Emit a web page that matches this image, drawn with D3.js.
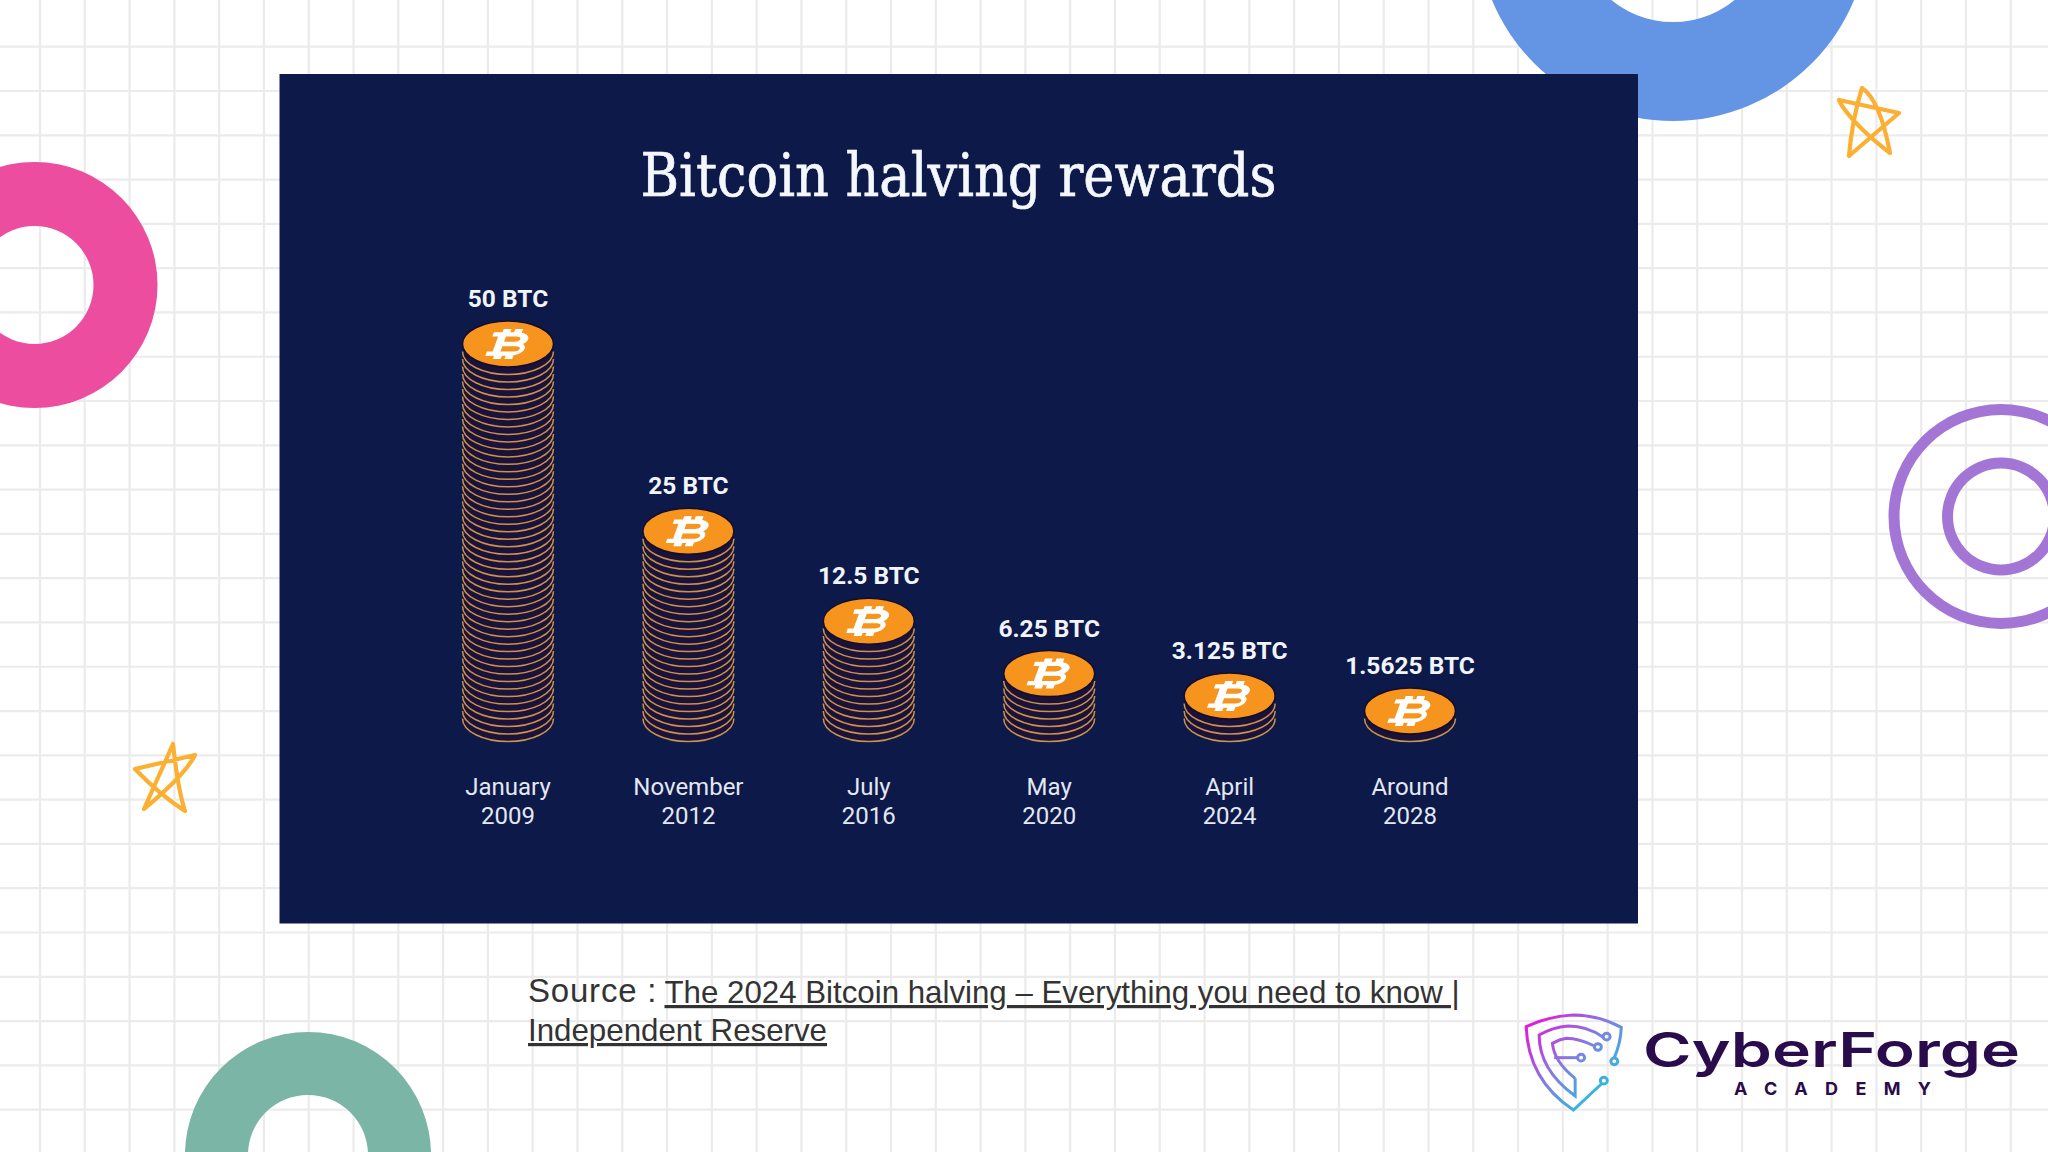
<!DOCTYPE html>
<html>
<head>
  <meta charset="utf-8">
  <script src="https://d3js.org/d3.v7.min.js"></script>
  <style>
    html, body { margin: 0; padding: 0; background: #fff; }
    svg { display: block; }
  </style>
</head>
<body>
<script type="text/javascript">

  // chart data
  var months = ["January", "November", "July", "May", "April", "Around"];
  var years = ["2009", "2012", "2016", "2020", "2024", "2028"];
  var rewards = ["50 BTC", "25 BTC", "12.5 BTC", "6.25 BTC", "3.125 BTC", "1.5625 BTC"];
  var coinLayers = [50, 25, 13, 6, 3, 1];

  var title = "Bitcoin halving rewards";

  var width = 2048, height = 1152;
  var panel = {x: 279.5, y: 74, w: 1358.5, h: 849.5};
  var coin = {rx: 45.5, ry: 23};
  var btcIcon = "M17.06 11.57c.59-.69.94-1.59.94-2.57 0-1.86-1.27-3.43-3-3.87V3h-2v2h-2V3H9v2H6v2h2v10H6v2h3v2h2v-2h2v2h2v-2.13c1.73-.44 3-2.01 3-3.87 0-1.41-.73-2.65-1.94-3.43zM10 7h4c1.1 0 2 .9 2 2s-.9 2-2 2h-4V7zm5 10h-5v-4h5c1.1 0 2 .9 2 2s-.9 2-2 2z";

  var svg = d3.select("body").append("svg")
    .attr("width", width)
    .attr("height", height)
    .style("background", "#fff");

  // background grid
  var gridX = d3.range(40, width, 44.79);
  var gridY = d3.range(46.7, height, 44.29);

  svg.append("g").selectAll("line").data(gridX).enter().append("line")
    .attr("x1", function(d) { return d; }).attr("x2", function(d) { return d; })
    .attr("y1", 0).attr("y2", height)
    .attr("stroke", "#ebebeb").attr("stroke-width", 2.2);
  svg.append("g").selectAll("line").data(gridY).enter().append("line")
    .attr("y1", function(d) { return d; }).attr("y2", function(d) { return d; })
    .attr("x1", 0).attr("x2", width)
    .attr("stroke", "#ebebeb").attr("stroke-width", 2.2);

  // decoration rings
  function ring(cx, cy, inner, outer, color) {
    svg.append("path")
      .attr("transform", "translate(" + cx + "," + cy + ")")
      .attr("d", d3.arc()({innerRadius: inner, outerRadius: outer, startAngle: 0, endAngle: 2 * Math.PI}))
      .attr("fill", color);
  }
  ring(34.5, 285, 59, 123, "#ec4d9f");
  ring(1673, -75, 97, 196, "#6495e4");
  ring(308, 1155, 60, 123, "#7ab5a5");
  ring(2001, 516.5, 101.5, 112.5, "#a376d6");
  ring(2001, 516.5, 48, 59, "#a376d6");

  // hand drawn stars
  function star(d) {
    svg.append("path").attr("d", d)
      .attr("fill", "none").attr("stroke", "#fbb034")
      .attr("stroke-width", 4.2).attr("stroke-linejoin", "round").attr("stroke-linecap", "round");
  }
  star("M1839 100L1899 113L1849 156Q1852 120 1862 88Q1880 100 1890 153Q1860 130 1845 110Q1841 105 1839 100");
  star("M135 769L195 755Q185 775 144 809L173 744Q178 790 185 811Q160 795 135 769");

  // main panel
  svg.append("rect")
    .attr("x", panel.x).attr("y", panel.y)
    .attr("width", panel.w).attr("height", panel.h)
    .attr("fill", "#0c1949");

  svg.append("text")
    .attr("x", 958.5).attr("y", 196)
    .attr("text-anchor", "middle")
    .attr("textLength", 636)
    .attr("lengthAdjust", "spacingAndGlyphs")
    .style("font-family", "'DejaVu Serif', serif")
    .style("font-size", "60px")
    .style("fill", "#f4f7fc")
    .style("stroke", "#f4f7fc")
    .style("stroke-width", 0.7)
    .text(title);

  // scales
  var x = d3.scalePoint().domain(months).range([508, 1410]);
  var y = d3.scaleLinear().domain([0, 50]).range([718.5, 344]);

  var stacks = svg.append("g").selectAll("g")
    .data(months)
    .enter().append("g")
    .attr("transform", function(d) { return "translate(" + x(d) + ",0)"; });

  // coins under the top one, bottom first
  stacks.each(function(d, i) {
    var g = d3.select(this);
    var layers = d3.range(coinLayers[i]);
    var layer = g.selectAll("g.layer").data(layers).enter().append("g")
      .attr("class", "layer");
    layer.append("ellipse")
      .attr("cy", function(l) { return y(l); })
      .attr("rx", coin.rx).attr("ry", coin.ry)
      .attr("fill", "#1a1238");
    layer.append("path")
      .attr("d", function(l) {
        return "M" + (-coin.rx) + "," + y(l) + "A" + coin.rx + "," + coin.ry + " 0 0 0 " + coin.rx + "," + y(l);
      })
      .attr("fill", "none")
      .attr("stroke", "#c8924f")
      .attr("stroke-width", 1.5);
  });

  // top coin
  stacks.append("ellipse")
    .attr("cy", function(d, i) { return y(coinLayers[i]); })
    .attr("rx", coin.rx).attr("ry", coin.ry)
    .attr("fill", "#f6941d")
    .attr("stroke", "#140d2e")
    .attr("stroke-width", 1.5);

  stacks.append("path")
    .attr("d", btcIcon)
    .attr("transform", function(d, i) {
      return "translate(0," + y(coinLayers[i]) + ") skewX(-20) scale(2.9,1.6) translate(-12,-12)";
    })
    .attr("fill", "#fff")
    .attr("stroke", "#fff")
    .attr("stroke-width", 0.7);

  // labels
  stacks.append("text")
    .attr("y", function(d, i) { return y(coinLayers[i]) - 37; })
    .attr("text-anchor", "middle")
    .style("font-family", "Roboto, sans-serif")
    .style("font-weight", 700)
    .style("font-size", "24.5px")
    .style("fill", "#f1f4fa")
    .text(function(d, i) { return rewards[i]; });

  stacks.append("text")
    .attr("y", 795)
    .attr("text-anchor", "middle")
    .style("font-family", "Roboto, sans-serif")
    .style("font-size", "24px")
    .style("fill", "#e3e8f3")
    .text(function(d) { return d; });

  stacks.append("text")
    .attr("y", 824)
    .attr("text-anchor", "middle")
    .style("font-family", "Roboto, sans-serif")
    .style("font-size", "24px")
    .style("fill", "#e3e8f3")
    .text(function(d, i) { return years[i]; });

  // source note
  var note = svg.append("g")
    .style("font-family", "'Liberation Sans', Arial, sans-serif")
    .style("fill", "#333");
  note.append("text").attr("x", 528).attr("y", 1002)
    .style("font-size", "33px").style("letter-spacing", "0.8px")
    .text("Source :");
  note.append("text").attr("x", 664.5).attr("y", 1003)
    .attr("textLength", 795).attr("lengthAdjust", "spacingAndGlyphs")
    .style("font-size", "32px").style("text-decoration", "underline")
    .text("The 2024 Bitcoin halving \u2013 Everything you need to know |");
  note.append("text").attr("x", 528).attr("y", 1041)
    .attr("textLength", 299).attr("lengthAdjust", "spacingAndGlyphs")
    .style("font-size", "32px").style("text-decoration", "underline")
    .text("Independent Reserve");

  // logo, drawn in the coordinates of the crop it was read from
  var defs = svg.append("defs");
  var grad = defs.append("linearGradient").attr("id", "logoGrad")
    .attr("gradientUnits", "userSpaceOnUse")
    .attr("x1", 75).attr("y1", 90).attr("x2", 330).attr("y2", 330);
  grad.append("stop").attr("offset", "0").attr("stop-color", "#ec10d8");
  grad.append("stop").attr("offset", "0.5").attr("stop-color", "#7f7fe6");
  grad.append("stop").attr("offset", "1").attr("stop-color", "#14d0d8");

  var logo = svg.append("g")
    .attr("transform", "translate(1500,990) scale(" + (1 / 2.861) + "," + (1 / 3) + ")");
  var logoPaths = [
    "M327 203Q345 160 347 112Q280 75 210 75Q140 78 75 110Q80 270 210 360L290 282",
    "M294 141Q250 108 195 108Q150 112 112 135Q112 240 215 318V265",
    "M270 168Q225 145 190 145Q170 148 150 160Q155 215 215 265",
    "M155 203H222"
  ];
  logo.selectAll("path").data(logoPaths).enter().append("path")
    .attr("d", function(d) { return d; })
    .attr("fill", "none")
    .attr("stroke", "url(#logoGrad)")
    .attr("stroke-width", 3)
    .attr("vector-effect", "non-scaling-stroke");
  var logoDots = [[327, 214], [297, 272], [305, 140], [280, 171], [232, 203]];
  logo.selectAll("circle").data(logoDots).enter().append("circle")
    .attr("cx", function(d) { return d[0]; })
    .attr("cy", function(d) { return d[1]; })
    .attr("r", 10)
    .attr("fill", "none")
    .attr("stroke", "url(#logoGrad)")
    .attr("stroke-width", 3)
    .attr("vector-effect", "non-scaling-stroke");

  svg.append("text").attr("x", 1643).attr("y", 1067)
    .attr("textLength", 377).attr("lengthAdjust", "spacingAndGlyphs")
    .style("font-family", "Inter, sans-serif").style("font-weight", 600)
    .style("font-size", "48px").style("fill", "#2a0b4b")
    .text("CyberForge");
  svg.append("text").attr("x", 1734).attr("y", 1095)
    .attr("textLength", 197).attr("lengthAdjust", "spacing")
    .style("font-family", "Inter, sans-serif").style("font-weight", 700)
    .style("font-size", "18px").style("fill", "#2a0b4b")
    .text("ACADEMY");

</script>
</body>
</html>
